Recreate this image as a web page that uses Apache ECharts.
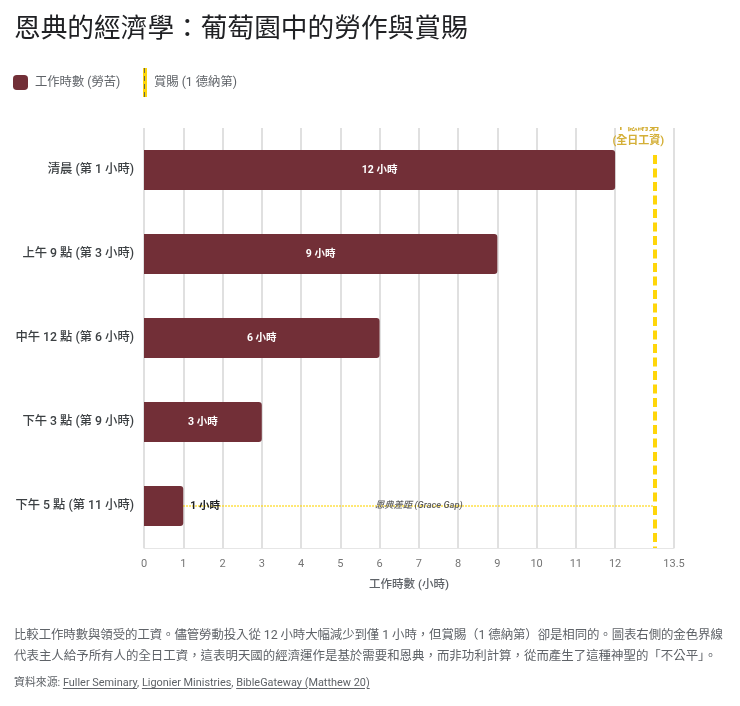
<!DOCTYPE html>
<html lang="zh-Hant"><head><meta charset="utf-8">
<script src="https://cdn.jsdelivr.net/npm/echarts@6/dist/echarts.min.js"></script>
<style>
html,body{margin:0;padding:0;background:#fff;width:740px;height:706px;overflow:hidden;font-family:Roboto,"Noto Sans CJK TC",sans-serif;}
#chart{position:absolute;left:0;top:0;width:740px;height:706px;}
#desc{position:absolute;left:14px;top:624px;font-size:12.45px;line-height:21px;color:#5f6368;white-space:nowrap;}
#desc span{letter-spacing:-0.1px;}
#src{position:absolute;left:14px;top:675px;font-size:10.9px;line-height:16px;color:#5f6368;white-space:nowrap;}
#src u{text-underline-offset:2px;}
</style></head><body>
<div id="chart"></div>
<div id="desc"><span>比較工作時數與領受的工資。儘管勞動投入從 12 小時大幅減少到僅 1 小時，但賞賜（1 德納第）卻是相同的。圖表右側的金色界線</span><br>代表主人給予所有人的全日工資，這表明天國的經濟運作是基於需要和恩典，而非功利計算，從而產生了這種神聖的「不公平」。</div>
<div id="src">資料來源: <u>Fuller Seminary</u>, <u>Ligonier Ministries</u>, <u>BibleGateway (Matthew 20)</u></div>
<script>
const titleText = '恩典的經濟學：葡萄園中的勞作與賞賜';
const categories = ['清晨 (第 1 小時)','上午 9 點 (第 3 小時)','中午 12 點 (第 6 小時)','下午 3 點 (第 9 小時)','下午 5 點 (第 11 小時)'];
const hours = [12,9,6,3,1];
const hourLabels = ['12 小時','9 小時','6 小時','3 小時','1 小時'];
const rewardHours = 13;
const rewardLineSpan = [0.32,5];
const xTicks = [0,1,2,3,4,5,6,7,8,9,10,11,12,13.5];
const xMax = 13.5;
const laborName = '工作時數 (勞苦)';
const rewardName = '賞賜 (1 德納第)';
const rewardLabel = '1 德納第\n(全日工資)';
const gapLabel = '恩典差距 (Grace Gap)';
const axisName = '工作時數 (小時)';
const FONT = 'Roboto,"Noto Sans CJK TC",sans-serif';
const chart = echarts.init(document.getElementById('chart'));
chart.setOption({
  animation:false,
  textStyle:{fontFamily:FONT},
  title:{text:titleText,left:14,top:17,padding:0,textStyle:{fontSize:26.7,fontWeight:'normal',color:'#202124',fontFamily:FONT}},
  legend:[
    {data:[{name:laborName,icon:'roundRect'}],left:13,top:75,padding:0,itemWidth:15,itemHeight:15,itemGap:6,textStyle:{fontSize:12.3,color:'#5f6368',fontFamily:FONT,padding:[0,0,0,2]}},
    {data:[{name:rewardName,icon:'rect'}],left:143,top:68,padding:0,itemWidth:4,itemHeight:29,textStyle:{fontSize:12.3,color:'#5f6368',fontFamily:FONT,padding:[0,0,0,2]},itemStyle:{color:'#FFD60A'}}
  ],
  grid:{left:144,right:66,top:128,bottom:158,containLabel:false},
  xAxis:{type:'value',min:0,max:xMax,
    axisLine:{show:true,onZero:false,lineStyle:{color:'#e6e6e6',width:1}},
    axisTick:{show:false,customValues:xTicks},
    axisLabel:{customValues:xTicks,color:'#757575',fontSize:11,margin:11,hideOverlap:false,formatter:v=>String(v)},
    splitLine:{show:true,lineStyle:{color:'#e0e0e0',width:2}},
    name:axisName,nameLocation:'middle',nameGap:31,nameTextStyle:{fontSize:11.5,color:'#5f6368',fontWeight:500}},
  yAxis:[
    {type:'category',inverse:true,data:categories,
     axisLine:{show:false},axisTick:{show:false},
     axisLabel:{color:'#3c4043',fontSize:12.3,fontWeight:500,margin:10,padding:[4,0,0,0]}},
    {type:'value',inverse:true,min:0,max:5,show:false,splitLine:{show:false}}
  ],
  series:[
    {name:laborName,type:'bar',barWidth:40,z:3,
     itemStyle:{color:'#722F37',borderRadius:[0,3,3,0]},
     data:hours.map((v,i)=>({value:v,
       label:i===hours.length-1?{position:'right',distance:7,color:'#202124'}:{position:'inside',color:'#fff'}})),
     label:{show:true,fontSize:10.5,fontWeight:'bold',formatter:p=>hourLabels[p.dataIndex]},
     markLine:{silent:true,symbol:'none',z:2,
       lineStyle:{color:'#FFD60A',type:'dotted',width:1.5},
       label:{show:true,position:'insideMiddle',formatter:gapLabel,fontSize:9.3,fontStyle:'italic',fontWeight:500,color:'#5f5f5f',distance:0},
       data:[[{coord:[hours[hours.length-1],categories[categories.length-1]]},{coord:[rewardHours,categories[categories.length-1]]}]]}},
    {name:rewardName,type:'line',yAxisIndex:1,data:[],itemStyle:{color:'#FFD60A'},lineStyle:{color:'#FFD60A'},showSymbol:false,
     markLine:{silent:true,symbol:'none',z:5,
       lineStyle:{color:'#FFD60A',type:[9,4.5],width:4},
       label:{show:true,position:'start',formatter:rewardLabel,color:'#D4AF37',fontSize:11,fontWeight:'bold',lineHeight:14,distance:7,offset:[-16,0]},
       data:[[{coord:[rewardHours,rewardLineSpan[0]]},{coord:[rewardHours,rewardLineSpan[1]]}]]}}
  ],
  graphic:[
    {type:'rect',silent:true,z:100,shape:{x:560,y:100,width:170,height:27},style:{fill:'#fff'}},
    {type:'line',silent:true,z:100,shape:{x1:144.5,y1:68,x2:144.5,y2:97},style:{stroke:'#6b6b4a',lineWidth:1,lineDash:[5,3]}}
  ]
});
</script></body></html>
